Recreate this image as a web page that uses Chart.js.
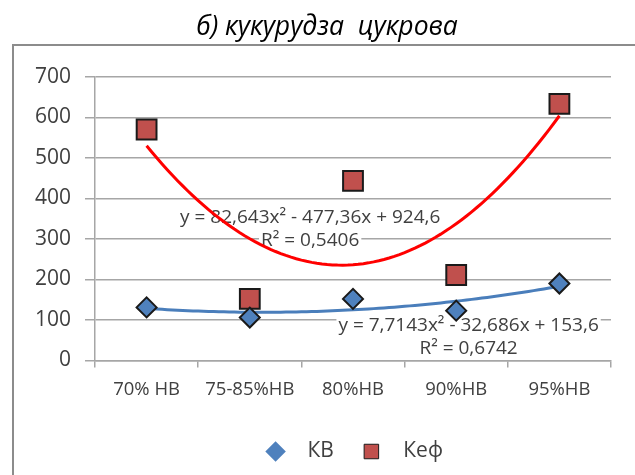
<!DOCTYPE html>
<html>
<head>
<meta charset="utf-8">
<script src="https://cdn.jsdelivr.net/npm/chart.js@4"></script>
<style>
html,body{margin:0;padding:0;background:#fff;}
#wrap{width:635px;height:475px;position:relative;}
</style>
</head>
<body>
<div id="wrap"><canvas id="c" width="635" height="475"></canvas></div>
<script>
const categories = ['70% HB', '75-85%HB', '80%HB', '90%HB', '95%HB'];
const kbValues  = [131, 106, 152, 123, 190];
const kefValues = [570, 152, 443, 211, 633];
const yTicks = [0, 100, 200, 300, 400, 500, 600, 700];
const kbCoef  = [7.7143, -32.686, 153.6];
const kefCoef = [82.643, -477.36, 924.6];
const kbEquation  = ['y = 7,7143x² - 32,686x + 153,6', 'R² = 0,6742'];
const kefEquation = ['y = 82,643x² - 477,36x + 924,6', 'R² = 0,5406'];

function trend(coef) {
  const pts = [];
  for (let i = 0; i <= 80; i++) {
    const x = 1 + i * 4 / 80;
    pts.push({x: x, y: coef[0] * x * x + coef[1] * x + coef[2]});
  }
  return pts;
}

const FONT = '"Open Sans", Lato, sans-serif';

const framePlugin = {
  id: 'frame',
  beforeDraw(chart) {
    const ctx = chart.ctx;
    ctx.save();
    ctx.fillStyle = '#fff';
    ctx.fillRect(0, 0, chart.width, chart.height);
    ctx.strokeStyle = '#8c8c8c';
    ctx.lineWidth = 2;
    ctx.strokeRect(13, 45, 640, 460);
    ctx.restore();
  },
  afterLayout(chart) {
    const lg = chart.legend;
    if (lg) { lg.left += 34.5; lg.right += 34.5; }
    const tb = chart.titleBlock;
    if (tb) { tb.left += 7.5; tb.right += 7.5; }
  }
};

const labelPlugin = {
  id: 'eqLabels',
  beforeDatasetsDraw(chart) {
    const ctx = chart.ctx;
    const xs = chart.scales.x2, ys = chart.scales.y;
    const items = [
      {t: kefEquation[0], x: 2.585, y: 352},
      {t: kefEquation[1], x: 2.585, y: 296},
      {t: kbEquation[0], x: 4.12, y: 86},
      {t: kbEquation[1], x: 4.12, y: 30}
    ];
    ctx.save();
    ctx.font = '19px ' + FONT;
    ctx.textAlign = 'center';
    ctx.textBaseline = 'middle';
    items.forEach(it => {
      const px = xs.getPixelForValue(it.x), py = ys.getPixelForValue(it.y);
      const w = ctx.measureText(it.t).width;
      ctx.fillStyle = '#fff';
      ctx.fillRect(px - w / 2 - 2, py - 10, w + 4, 20);
      ctx.fillStyle = '#404040';
      ctx.fillText(it.t, px, py);
    });
    ctx.restore();
  }
};

new Chart(document.getElementById('c'), {
  type: 'line',
  data: {
    labels: categories,
    datasets: [
      {
        label: 'КВ', data: kbValues, showLine: false, order: 0, borderWidth: 1,
        pointStyle: 'rectRot', pointRadius: 10, pointHoverRadius: 10,
        backgroundColor: '#4F81BD', borderColor: '#1a1a1a', pointBorderWidth: 2
      },
      {
        label: 'Кеф', data: kefValues, showLine: false, order: 0, borderWidth: 1,
        pointStyle: 'rect', pointRadius: 14, pointHoverRadius: 14,
        backgroundColor: '#C0504D', borderColor: '#1a1a1a', pointBorderWidth: 2
      },
      {
        label: 'trendKB', data: trend(kbCoef), xAxisID: 'x2', order: 1,
        borderColor: '#4A7EBB', borderWidth: 3, pointRadius: 0, tension: 0, fill: false
      },
      {
        label: 'trendKef', data: trend(kefCoef), xAxisID: 'x2', order: 1,
        borderColor: '#FF0000', borderWidth: 3, pointRadius: 0, tension: 0, fill: false
      }
    ]
  },
  options: {
    responsive: false,
    animation: false,
    layout: {padding: {left: 28, right: 24, top: 0, bottom: 3}},
    plugins: {
      title: {
        display: true, text: 'б) кукурудза  цукрова',
        color: '#000', font: {family: FONT, size: 26.5, style: 'italic', weight: 'normal'},
        padding: {top: 12, bottom: 33}
      },
      legend: {
        display: true, position: 'bottom',
        labels: {
          usePointStyle: true, color: '#404040', padding: 27, boxHeight: 14.5,
          font: {family: FONT, size: 21},
          generateLabels: chart => Chart.defaults.plugins.legend.labels.generateLabels(chart)
            .filter(l => l.text === 'КВ' || l.text === 'Кеф')
            .map(l => { l.lineWidth = l.text === 'КВ' ? 0 : 1; l.text = '  ' + l.text; return l; })
        }
      },
      tooltip: {enabled: false}
    },
    scales: {
      x: {
        type: 'category', offset: true,
        afterFit: s => { s.height = 53.5; },
        grid: {display: true, drawOnChartArea: false, offset: true, tickLength: 7, color: '#a6a6a6', lineWidth: 1.5},
        border: {display: true, color: '#a6a6a6', width: 1.5},
        ticks: {color: '#404040', font: {family: FONT, size: 18.5}, padding: 11, maxRotation: 0, autoSkip: false}
      },
      x2: {type: 'linear', display: false, min: 0.5, max: 5.5},
      y: {
        min: 0, max: 700,
        afterBuildTicks: s => { s.ticks = yTicks.map(v => ({value: v})); },
        afterFit: s => { s.width = 67; },
        grid: {color: '#a6a6a6', lineWidth: 1.5, tickLength: 10},
        border: {display: true, color: '#a6a6a6', width: 1.5},
        ticks: {color: '#404040', font: {family: FONT, size: 21}, padding: 14}
      }
    }
  },
  plugins: [framePlugin, labelPlugin]
});
</script>
</body>
</html>
